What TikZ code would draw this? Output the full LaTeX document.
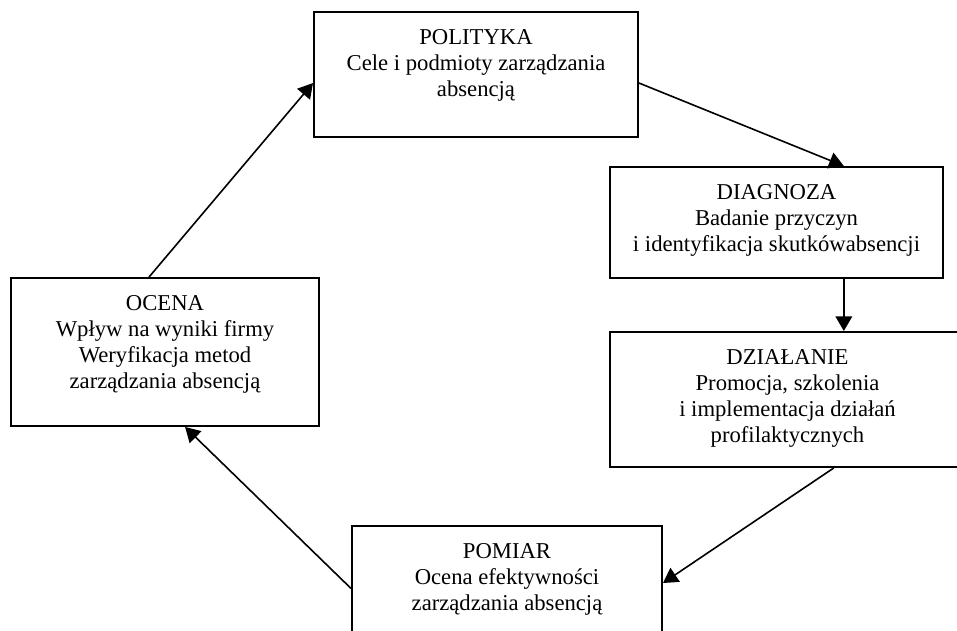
\documentclass[tikz,border=0pt]{standalone}
\usepackage{fontspec}
\setmainfont{Liberation Serif}
\usepackage{tikz}
\usetikzlibrary{arrows.meta,positioning}

\begin{document}
\begin{tikzpicture}[x=0.75pt, y=-0.75pt,
		box/.style={draw, line width=1.5pt, rectangle, inner sep=0pt},
		txt/.style={align=center, inner sep=0pt, font=\fontsize{17}{19.4}\selectfont},
		arr/.style={line width=1.2pt, -{Triangle[length=11pt,width=12.5pt]}}]
		\useasboundingbox (0,0) rectangle (957,631);
		% the five stages
		\node[box, minimum width=243pt, minimum height=93.75pt] (pol) at (476,74.5) {};
		\node[box, minimum width=249.75pt, minimum height=83.25pt] (dia) at (776.5,222.5) {};
		\node[box, minimum width=266.25pt, minimum height=101.25pt] (dzi) at (787.5,399.5) {};
		\node[box, minimum width=232.5pt, minimum height=85.5pt] (pom) at (507,583) {};
		\node[box, minimum width=231pt, minimum height=111pt] (oce) at (165,352) {};
		\node[txt, below=13.8pt of pol.north] (pol-t) {POLITYKA\\Cele i podmioty zarządzania\\absencją};
		\node[txt, below=13.8pt of dia.north] (dia-t) {DIAGNOZA\\Badanie przyczyn\\i identyfikacja skutkówabsencji};
		\node[txt, below=13.8pt of dzi.north] (dzi-t) {DZIAŁANIE\\Promocja, szkolenia\\i implementacja działań\\profilaktycznych};
		\node[txt, below=13.8pt of pom.north] (pom-t) {POMIAR\\Ocena efektywności\\zarządzania absencją};
		\node[txt, below=13.8pt of oce.north] (oce-t) {OCENA\\Wpływ na wyniki firmy\\Weryfikacja metod\\zarządzania absencją};
		% the cycle
		\draw[arr] (pol.-3) -- (dia.40);
		\draw[arr] (dia.-40.3) -- (dia.-40.3 |- dzi.north);
		\draw[arr] (dzi.-56.6) -- (pom.east);
		\draw[arr] (pom.182.6) -- (oce.-75);
		\draw[arr] (oce.102.9) -- (pol.183.4);
\end{tikzpicture}
\end{document}
